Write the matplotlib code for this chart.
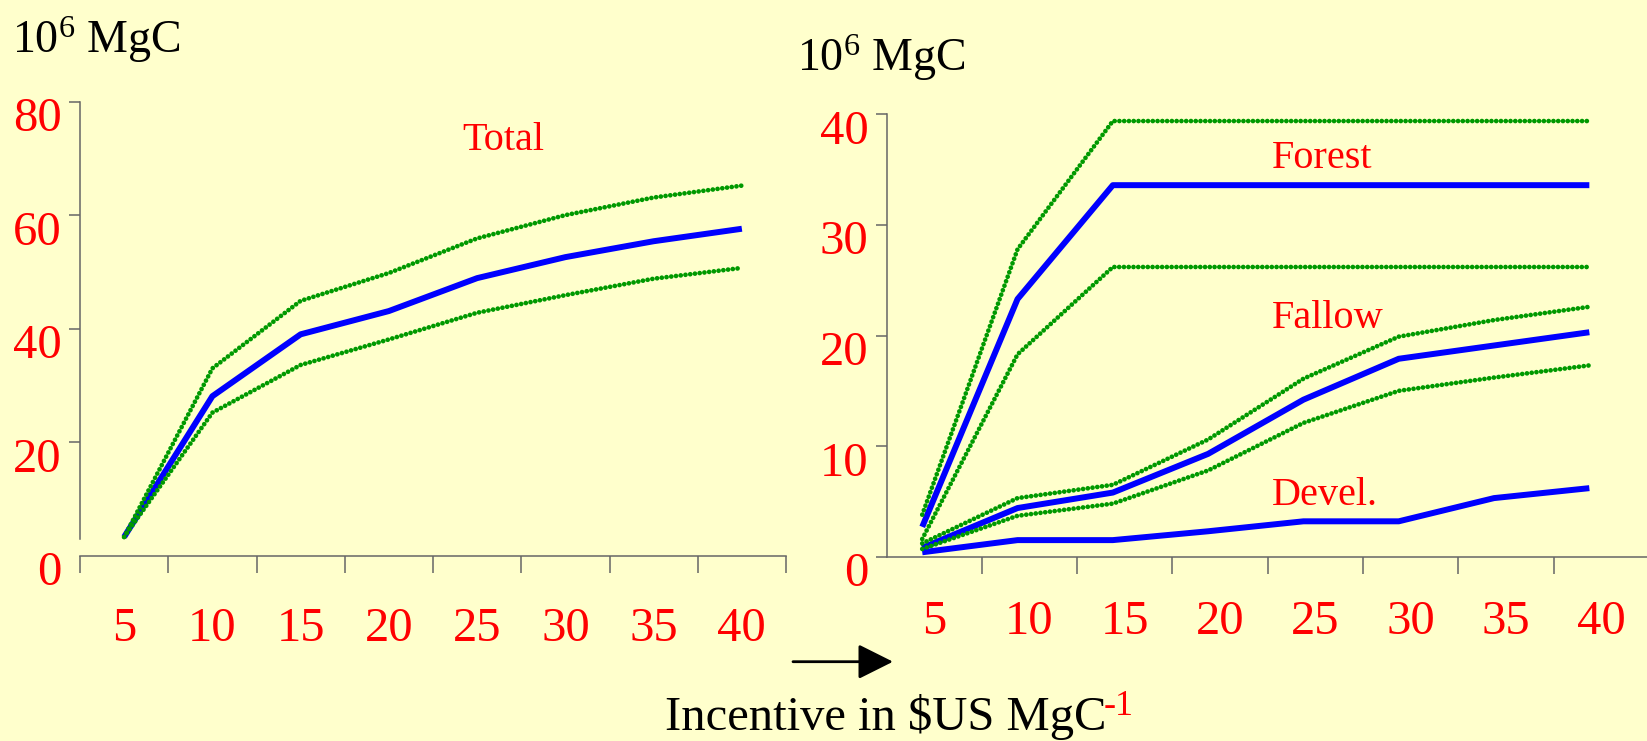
import matplotlib
matplotlib.use('Agg')
import matplotlib.pyplot as plt
import numpy as np
from matplotlib.transforms import ScaledTranslation
from matplotlib.patches import FancyArrowPatch, ArrowStyle

plt.rcParams['font.family'] = ['Liberation Serif', 'DejaVu Serif']
plt.rcParams['mathtext.fontset'] = 'custom'
plt.rcParams['mathtext.rm'] = 'Liberation Serif'
plt.rcParams['mathtext.it'] = 'Liberation Serif'

# ---------------- data ----------------
incentive = [5, 10, 15, 20, 25, 30, 35, 40]

total_mean = [3.3, 28.1, 39.0, 43.1, 48.9, 52.6, 55.4, 57.6]
total_upper = [3.3, 33.0, 44.9, 49.8, 55.9, 60.0, 63.1, 65.2]
total_lower = [3.3, 25.2, 33.6, 38.1, 42.8, 45.9, 48.8, 50.7]

forest_mean = [2.7, 23.3, 33.6, 33.6, 33.6, 33.6, 33.6, 33.6]
forest_upper = [3.8, 27.8, 39.4, 39.4, 39.4, 39.4, 39.4, 39.4]
forest_lower = [1.6, 18.3, 26.2, 26.2, 26.2, 26.2, 26.2, 26.2]

fallow_mean = [0.8, 4.4, 5.8, 9.3, 14.2, 17.9, 19.1, 20.3]
fallow_upper = [1.2, 5.3, 6.5, 10.6, 16.1, 19.9, 21.4, 22.6]
fallow_lower = [0.7, 3.7, 4.8, 7.8, 12.1, 15.0, 16.2, 17.3]

devel_mean = [0.4, 1.5, 1.5, 2.3, 3.2, 3.2, 5.3, 6.2]

left_yticks = [0, 20, 40, 60, 80]
right_yticks = [0, 10, 20, 30, 40]

# ---------------- layout ----------------
W, H = 1647, 741
BG = '#FFFFCC'
RED = '#FF0000'
BLUE = '#0000FF'
GREEN = '#009900'
AXC = '#666666'
TICKSIZE = 35

fig = plt.figure(figsize=(W / 100, H / 100), dpi=100, facecolor=BG)


def fx(px):
    return px / W


def fy(py):
    return 1 - py / H


axL = fig.add_axes([fx(80), fy(555.7), fx(786) - fx(80), fy(101.6) - fy(555.7)])
axR = fig.add_axes([fx(886.5), fy(556.7), 8 * 95.3 / W, fy(114.4) - fy(556.7)])

label_shift = ScaledTranslation(0, -0.125, fig.dpi_scale_trans)


def style(ax, ymax, yticks, pad_x):
    ax.set_facecolor('none')
    ax.set_xlim(0.5, 8.5)
    ax.set_ylim(0, ymax)
    for s in ['top', 'right']:
        ax.spines[s].set_visible(False)
    for s in ['left', 'bottom']:
        ax.spines[s].set_color(AXC)
        ax.spines[s].set_linewidth(1.1)
    n = len(incentive)
    ax.set_xticks(np.arange(0.5, n + 1, 1))
    ax.set_xticklabels([])
    ax.set_xticks(np.arange(1, n + 1), minor=True)
    ax.set_xticklabels([str(v) for v in incentive], minor=True)
    ax.tick_params(axis='x', which='major', direction='out', length=12,
                   width=1.1, color=AXC)
    ax.tick_params(axis='x', which='minor', length=0, pad=pad_x,
                   labelsize=TICKSIZE, labelcolor=RED)
    ax.set_yticks(yticks)
    ax.set_yticklabels([str(v) for v in yticks])
    ax.tick_params(axis='y', direction='out', length=8, width=1.1,
                   color=AXC, labelsize=TICKSIZE, labelcolor=RED, pad=5)
    for lab in ax.get_yticklabels():
        lab.set_transform(lab.get_transform() + label_shift)


style(axL, 80, left_yticks, 37.0)
style(axR, 40, right_yticks, 31.0)

axL.spines['left'].set_bounds(2.9, 80)
axL.yaxis.get_major_ticks()[0].tick1line.set_visible(False)
axR.xaxis.get_major_ticks()[0].tick1line.set_visible(False)

blue = dict(color=BLUE, lw=4.3, solid_capstyle='butt')
green = dict(color=GREEN, lw=3.4, linestyle=(0, (0.01, 1.0)),
             dash_capstyle='round')

xL = np.arange(1, len(incentive) + 1)
axL.plot(xL, total_mean, **blue)
axL.plot(xL, total_upper, **green)
axL.plot(xL, total_lower, **green)

xR = np.arange(1, len(incentive) + 1) - 0.125
axR.plot(xR, forest_mean, **blue)
axR.plot(xR, fallow_mean, **blue)
axR.plot(xR, devel_mean, **blue)
for s in [forest_upper, forest_lower, fallow_upper, fallow_lower]:
    axR.plot(xR, s, **green)

# ---------------- texts ----------------
fig.text(fx(462), fy(150), 'Total', color=RED, fontsize=29, va='baseline')
fig.text(fx(1272), fy(168), 'Forest', color=RED, fontsize=29, va='baseline')
fig.text(fx(1272), fy(328.5), 'Fallow', color=RED, fontsize=29, va='baseline')
fig.text(fx(1272), fy(505), 'Devel.', color=RED, fontsize=29, va='baseline')

fig.text(fx(12), fy(53), '10$^{6}$ MgC', color='black', fontsize=33, va='baseline')
fig.text(fx(797), fy(71), '10$^{6}$ MgC', color='black', fontsize=33, va='baseline')

fig.text(fx(665), fy(730), r'Incentive in \$US MgC', color='black',
         fontsize=35, va='baseline')
fig.text(fx(1104), fy(715), '-1', color=RED, fontsize=26, va='baseline')

arrow = FancyArrowPatch(posA=(fx(793), fy(661.7)), posB=(fx(893), fy(661.7)),
                        transform=fig.transFigure,
                        arrowstyle=ArrowStyle('-|>', head_length=21.6, head_width=10.8),
                        mutation_scale=1, lw=2.0, color='black',
                        shrinkA=0, shrinkB=0)
fig.add_artist(arrow)

fig.savefig('out.png', dpi=100, facecolor=BG)
